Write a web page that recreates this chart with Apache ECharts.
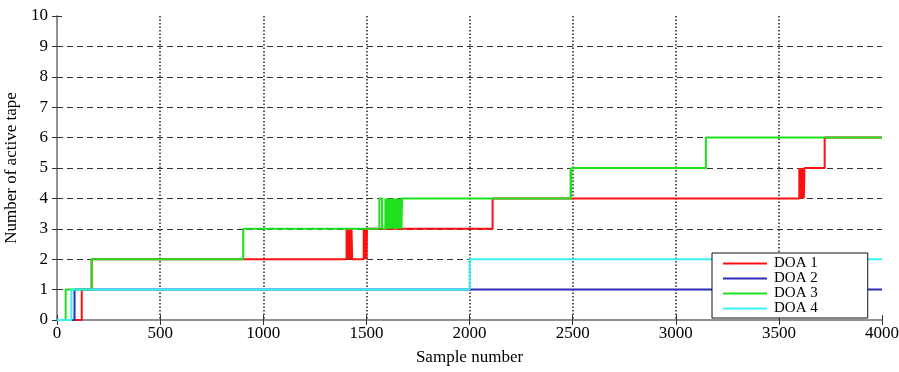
<!DOCTYPE html>
<html>
<head>
<meta charset="utf-8">
<script src="https://cdn.jsdelivr.net/npm/echarts@6/dist/echarts.min.js"></script>
<style>html,body{margin:0;padding:0;background:#fff;}#c{width:899px;height:372px;}</style>
</head>
<body>
<div id="c"></div>
<script>
// Step data: [sample where value changes, new value]
const doa1X = [0, 120, 168,
  1404, 1406, 1408, 1410, 1412, 1414, 1416, 1418, 1420, 1422, 1424, 1426, 1428, 1431,
  1487, 1489, 1491, 1493, 1495, 1497, 1499, 1501, 1503, 1506,
  2112,
  3599, 3601, 3603, 3605, 3607, 3609, 3611, 3613, 3615, 3617, 3619, 3621, 3624,
  3722, 4000];
const doa1Y = [0, 1, 2,
  3, 2, 3, 2, 3, 2, 3, 2, 3, 2, 3, 2, 3, 2,
  3, 2, 3, 2, 3, 2, 3, 2, 3, 3,
  4,
  5, 4, 5, 4, 5, 4, 5, 4, 5, 4, 5, 4, 5,
  6, 6];
const doa2X = [0, 85, 4000];
const doa2Y = [0, 1, 1];
const doa3X = [0, 42, 168, 903,
  1563, 1576,
  1592, 1594, 1596, 1598, 1600, 1602, 1604, 1606, 1608, 1610, 1612, 1614, 1616, 1618, 1620,
  1622, 1624, 1626, 1628, 1630, 1632, 1634, 1636, 1638, 1640, 1642, 1644, 1646, 1648, 1650,
  1652, 1654, 1656, 1658, 1660, 1662, 1664, 1666, 1668, 1670, 1673,
  2490, 2492, 2494, 2497,
  3146, 4000];
const doa3Y = [0, 1, 2, 3,
  4, 3,
  4, 3, 4, 3, 4, 3, 4, 3, 4, 3, 4, 3, 4, 3, 4,
  3, 4, 3, 4, 3, 4, 3, 4, 3, 4, 3, 4, 3, 4, 3,
  4, 3, 4, 3, 4, 3, 4, 3, 4, 3, 4,
  5, 4, 5, 5,
  6, 6];
const doa4X = [0, 70, 2000, 4000];
const doa4Y = [0, 1, 2, 2];
const seriesNames = ['DOA 1', 'DOA 2', 'DOA 3', 'DOA 4'];
const seriesColors = ['#ff1010', '#2c2cb4', '#1ee01e', '#38f2f2'];
const xTicks = [0, 500, 1000, 1500, 2000, 2500, 3000, 3500, 4000];
const yTicks = [0, 1, 2, 3, 4, 5, 6, 7, 8, 9, 10];

const pair = (xs, ys) => xs.map((x, i) => [x, ys[i]]);
const allData = [pair(doa1X, doa1Y), pair(doa2X, doa2Y), pair(doa3X, doa3Y), pair(doa4X, doa4Y)];

const font = 'Liberation Serif, Times New Roman, serif';
const axisGray = '#8a8a8a';
const plain = v => String(v);

const chart = echarts.init(document.getElementById('c'), null, {renderer: 'canvas'});
chart.setOption({
  animation: false,
  backgroundColor: '#fff',
  grid: {left: 57, right: 17, top: 16, bottom: 52, containLabel: false, outerBoundsMode: 'none'},
  legend: {
    data: seriesNames,
    orient: 'vertical',
    left: 712, top: 253,
    backgroundColor: '#fff',
    borderColor: '#111',
    borderWidth: 1,
    padding: [3, 50, 2, 11],
    itemGap: 0,
    itemWidth: 44,
    itemHeight: 2,
    icon: 'rect',
    textStyle: {fontFamily: font, fontSize: 15, color: '#000', lineHeight: 15, padding: [0, 0, 0, 2]},
    z: 10
  },
  xAxis: [{
    type: 'value', min: xTicks[0], max: xTicks[xTicks.length - 1], interval: 500,
    position: 'bottom',
    name: 'Sample number', nameLocation: 'middle', nameGap: 29,
    nameTextStyle: {fontFamily: font, fontSize: 17, color: '#000'},
    axisLine: {show: true, lineStyle: {color: axisGray, width: 1.5}},
    axisTick: {show: true, inside: true, length: 5, lineStyle: {color: '#333'}},
    axisLabel: {fontFamily: font, fontSize: 17, color: '#000', margin: 5, formatter: plain},
    splitLine: {show: true, showMinLine: false, showMaxLine: false, lineStyle: {color: '#222', type: [1.5, 2], width: 1.5}}
  }, {
    type: 'value', min: xTicks[0], max: xTicks[xTicks.length - 1], interval: 500,
    position: 'top',
    axisLine: {show: true, lineStyle: {color: axisGray, width: 1.5}},
    axisTick: {show: true, inside: true, length: 5, lineStyle: {color: '#333'}},
    axisLabel: {show: false},
    splitLine: {show: false}
  }],
  yAxis: [{
    type: 'value', min: yTicks[0], max: yTicks[yTicks.length - 1], interval: 1,
    position: 'left',
    name: 'Number of active tape', nameLocation: 'middle', nameGap: 36,
    nameTextStyle: {fontFamily: font, fontSize: 17, color: '#000'},
    axisLine: {show: true, lineStyle: {color: axisGray, width: 1.5}},
    axisTick: {show: true, inside: true, length: 5, lineStyle: {color: '#333'}},
    axisLabel: {fontFamily: font, fontSize: 17, color: '#000', margin: 9, formatter: plain},
    splitLine: {show: true, showMinLine: false, showMaxLine: false, lineStyle: {color: '#333', type: [6, 4], width: 1}}
  }, {
    type: 'value', min: yTicks[0], max: yTicks[yTicks.length - 1], interval: 1,
    position: 'right',
    axisLine: {show: true, lineStyle: {color: axisGray, width: 1.5}},
    axisTick: {show: true, inside: true, length: 5, lineStyle: {color: '#333'}},
    axisLabel: {show: false},
    splitLine: {show: false}
  }],
  series: seriesNames.map((name, i) => ({
    name: name,
    type: 'line',
    step: 'end',
    data: allData[i],
    xAxisIndex: 0, yAxisIndex: 0,
    symbol: 'none',
    color: seriesColors[i],
    itemStyle: {color: seriesColors[i]},
    lineStyle: {width: 2, color: seriesColors[i]},
    z: 2 + i
  }))
});
</script>
</body>
</html>
